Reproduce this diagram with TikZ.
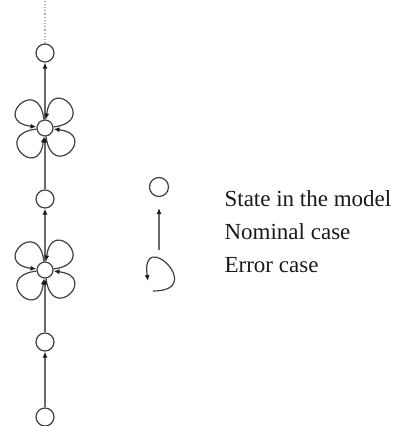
\documentclass[tikz,border=0pt]{standalone}
\usepackage{fontspec}
\setmainfont{Liberation Serif}
\usetikzlibrary{arrows.meta}
\tikzset{MS/.style = {
    circle,
    minimum size = #1,
    inner sep = 0pt,
    fill = white,
    draw = C1,
}}
\tikzset{NOM/.style = {C2, -{Latex[length=6pt,width=5pt,color=C0]}}}
\tikzset{ERR/.style = {C1, -{Latex[length=6pt,width=5pt,color=C0]}}}
\tikzset{TXT/.style = {anchor=base west, inner sep=0pt, text=C0}}
\definecolor{C0}{HTML}{1A1A1A}
\definecolor{C1}{HTML}{404040}
\definecolor{C2}{HTML}{6A6A6A}
\definecolor{C3}{HTML}{A8A8A8}

\begin{document}
\begin{tikzpicture}[x=1pt,y=1pt,line width=1.2pt]
  \fontsize{23}{33}\selectfont
  \useasboundingbox (0,0) rectangle (402,-426);
  \coordinate (top) at (45,0);
  \node[MS=18](s0) at (45,-417) {};
  \node[MS=18](s1) at (45,-342) {};
  \node[MS=16](f1) at (45,-270) {};
  \node[MS=18](s2) at (45,-199) {};
  \node[MS=16](f2) at (45,-128) {};
  \node[MS=18](s3) at (45, -53) {};
  \draw[C3,dotted](s3) -- (top);
  \draw[NOM](s0) edge (s1);
  \draw[NOM](s1) edge (f1);
  \draw[NOM](f1) edge (s2);
  \draw[NOM](s2) edge (f2);
  \draw[NOM](f2) edge (s3);
  % error loops
  \draw[ERR](f1) edge[out= 97,in=173,distance=46] (f1);
  \draw[ERR](f1) edge[out=  7,in= 83,distance=46] (f1);
  \draw[ERR](f1) edge[out=-83,in= -7,distance=46] (f1);
  \draw[ERR](f1) edge[out=187,in=263,distance=46] (f1);
  \draw[ERR](f2) edge[out= 97,in=173,distance=46] (f2);
  \draw[ERR](f2) edge[out=  7,in= 83,distance=46] (f2);
  \draw[ERR](f2) edge[out=-83,in= -7,distance=46] (f2);
  \draw[ERR](f2) edge[out=187,in=263,distance=46] (f2);
  % legend
  \node[MS=19](ls) at (159,-187) {};
  \coordinate (n1) at (159,-250);
  \coordinate (n2) at (159,-208);
  \draw[NOM](n1) -- (n2);
  \coordinate (e1) at (153,-291);
  \coordinate (e2) at (148,-281);
  \draw[ERR](e1) .. controls +(55,0) and +(-8,55) .. (e2);
  \node[TXT](t1) at (224,-206) {State in the model};
  \node[TXT](t2) at (224,-239) {Nominal case};
  \node[TXT](t3) at (224,-272) {Error case};
\end{tikzpicture}
\end{document}
